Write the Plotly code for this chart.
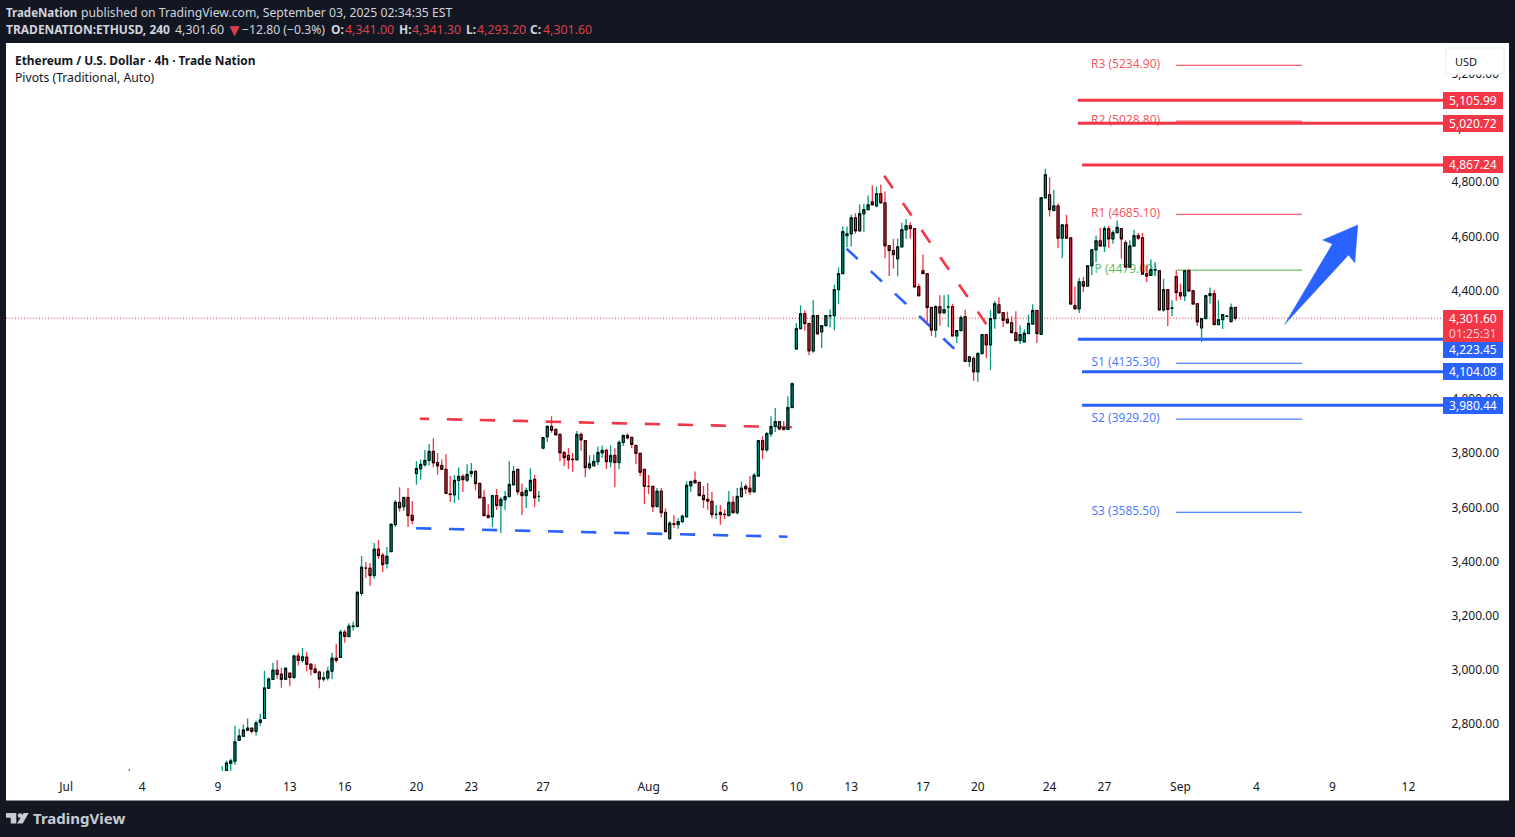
import plotly.graph_objects as go

# ---------- candle data (prices) ----------
read_open = [
 2600,
 2600,2625,2653,2661,2738,2753,2775,2783,2771,2804,
 2819,2930,2963,2997,2982,2963,2986,2970,3049,3033,
 3045,3019,3001,2990,2964,2968,2993,3041,3044,3137,
 3121,3158,3158,3280,3373,3373,3346,3443,3421,3390,
 3434,3534,3616,3600,3634,3568,3722,3740,3755,3771,
 3804,3763,3752,3738,3647,3644,3697,3712,3698,3722,
 3730,3686,3634,3568,3563,3641,3604,3626,3637,3681,
 3738,3653,3641,3659,3701,3638,3816,3858,3896,3885,
 3867,3800,3789,3775,3773,3867,3844,3744,3751,3766,
 3799,3808,3766,3789,3763,3837,3863,3856,3826,3797,
 3738,3675,3675,3600,3657,3579,3482,3537,3534,3545,
 3563,3677,3697,3690,3642,3627,3620,3572,3579,3572,
 3567,3616,3578,3637,3675,3668,3655,3713,3844,3810,
 3869,3896,3914,3892,3885,3966,4182,4257,4312,4276,
 4175,4305,4245,4268,4304,4305,4401,4460,4600,4607,
 4666,4618,4681,4696,4725,4710,4755,4721,4563,4545,
 4515,4559,4622,4637,4626,4412,4471,4460,4335,4252,
 4338,4315,4337,4338,4230,4250,4301,4136,4147,4098,
 4165,4235,4197,4294,4345,4316,4291,4279,4242,4213,
 4208,4239,4274,4324,4236,4740,4751,4693,4710,4591,
 4640,4592,4342,4330,4430,4414,4489,4548,4581,4562,
 4626,4588,4611,4626,4574,4484,4562,4600,4592,4460,
 4454,4473,4471,4326,4401,4332,4449,4390,4378,4471,
 4397,4349,4260,4294,4379,4386,4272,4290,4302,4283,
 4336]
read_high = [
 2632,
 2642,2663,2670,2792,2781,2796,2818,2783,2810,2836,
 2995,2971,3024,3034,3006,3006,2988,3054,3061,3079,
 3065,3020,3019,2995,2991,3009,3061,3094,3146,3146,
 3170,3175,3288,3418,3396,3392,3466,3477,3429,3451,
 3539,3625,3672,3635,3669,3621,3768,3774,3809,3831,
 3853,3798,3774,3794,3713,3717,3746,3720,3757,3761,
 3735,3686,3661,3610,3641,3665,3637,3658,3768,3750,
 3738,3686,3671,3742,3717,3658,3855,3901,3934,3889,
 3870,3805,3817,3798,3879,3874,3844,3790,3792,3822,
 3826,3814,3827,3816,3845,3863,3870,3858,3826,3797,
 3738,3717,3675,3669,3669,3594,3547,3568,3557,3571,
 3693,3693,3730,3690,3676,3687,3654,3606,3606,3590,
 3658,3639,3669,3693,3684,3713,3724,3845,3860,3876,
 3934,3964,3914,3915,4008,4058,4278,4343,4325,4276,
 4362,4305,4268,4305,4328,4420,4483,4635,4634,4678,
 4683,4715,4718,4748,4785,4782,4789,4763,4563,4588,
 4589,4648,4662,4650,4626,4423,4531,4460,4335,4343,
 4380,4380,4384,4349,4250,4306,4327,4153,4155,4171,
 4235,4235,4325,4359,4372,4316,4319,4303,4321,4269,
 4255,4309,4347,4324,4740,4847,4816,4770,4720,4640,
 4677,4592,4413,4445,4448,4489,4548,4601,4628,4636,
 4636,4620,4656,4626,4583,4583,4622,4610,4610,4493,
 4513,4503,4471,4441,4401,4362,4471,4423,4471,4478,
 4397,4349,4294,4382,4409,4401,4362,4309,4305,4350,
 4336]
read_low = [
 2580,
 2590,2615,2626,2648,2738,2753,2775,2763,2756,2792,
 2819,2930,2963,2965,2932,2961,2937,2963,3014,3024,
 2992,2977,2985,2930,2954,2959,2963,3024,3044,3098,
 3121,3143,3158,3271,3337,3308,3334,3407,3359,3372,
 3434,3525,3582,3584,3525,3536,3681,3700,3747,3752,
 3746,3718,3737,3649,3617,3615,3625,3654,3691,3709,
 3661,3633,3567,3560,3525,3588,3503,3588,3637,3681,
 3643,3569,3595,3659,3599,3617,3812,3839,3873,3865,
 3768,3750,3739,3728,3773,3806,3709,3736,3751,3754,
 3781,3739,3746,3673,3739,3824,3848,3816,3757,3713,
 3610,3647,3580,3600,3560,3508,3478,3521,3519,3541,
 3563,3655,3688,3641,3595,3588,3558,3555,3533,3555,
 3567,3574,3571,3637,3647,3643,3655,3713,3776,3803,
 3858,3876,3882,3882,3885,3966,4182,4257,4249,4159,
 4168,4238,4186,4268,4261,4251,4347,4460,4557,4560,
 4607,4618,4615,4696,4714,4705,4721,4517,4451,4478,
 4450,4556,4588,4590,4411,4374,4460,4276,4230,4224,
 4268,4315,4263,4230,4204,4250,4136,4116,4064,4061,
 4165,4148,4104,4257,4315,4263,4276,4242,4213,4200,
 4208,4239,4274,4204,4236,4740,4671,4693,4554,4518,
 4591,4348,4330,4315,4392,4414,4454,4503,4562,4540,
 4556,4570,4611,4515,4484,4484,4562,4583,4458,4429,
 4454,4450,4326,4319,4267,4303,4359,4364,4359,4396,
 4348,4267,4208,4294,4349,4272,4272,4256,4300,4280,
 4288]
read_close = [
 2590,
 2620,2654,2662,2732,2754,2776,2783,2771,2802,2813,
 2931,2964,2997,2981,2963,3004,2970,3049,3033,3046,
 3018,3001,2988,2964,2968,2993,3041,3033,3137,3121,
 3159,3159,3284,3377,3373,3346,3443,3420,3386,3417,
 3535,3616,3596,3634,3567,3550,3741,3756,3771,3804,
 3762,3751,3738,3649,3645,3697,3712,3700,3719,3730,
 3685,3633,3567,3560,3641,3604,3627,3637,3682,3730,
 3655,3641,3660,3697,3633,3638,3855,3896,3882,3865,
 3799,3781,3773,3774,3867,3847,3744,3758,3767,3800,
 3808,3766,3789,3763,3837,3863,3854,3830,3797,3727,
 3675,3675,3600,3657,3578,3508,3539,3535,3545,3565,
 3679,3693,3688,3641,3626,3621,3571,3572,3571,3571,
 3616,3578,3638,3668,3666,3655,3716,3844,3810,3870,
 3896,3914,3887,3885,3966,4054,4257,4312,4276,4175,
 4305,4238,4268,4305,4305,4401,4460,4615,4607,4666,
 4618,4681,4696,4714,4714,4755,4721,4563,4545,4530,
 4559,4622,4637,4626,4411,4379,4460,4335,4252,4338,
 4315,4327,4337,4230,4250,4298,4136,4153,4098,4165,
 4235,4197,4294,4349,4315,4288,4278,4242,4213,4235,
 4240,4276,4324,4239,4740,4825,4696,4710,4591,4640,
 4591,4348,4330,4430,4414,4489,4548,4581,4562,4626,
 4588,4611,4631,4588,4484,4562,4600,4591,4458,4451,
 4475,4475,4326,4401,4328,4333,4390,4378,4471,4396,
 4348,4282,4294,4379,4386,4272,4290,4309,4303,4335,
 4294]

# readings were taken against the tick labels, which sit slightly above their true level
READ_SHIFT = 6.0
# last bar from the header line
LAST_BAR = dict(o=4341.00, h=4341.30, l=4293.20, c=4301.60)

opens = [v + READ_SHIFT for v in read_open]
highs = [v + READ_SHIFT for v in read_high]
lows = [v + READ_SHIFT for v in read_low]
closes = [v + READ_SHIFT for v in read_close]
opens[-1], highs[-1], lows[-1], closes[-1] = LAST_BAR["o"], LAST_BAR["h"], LAST_BAR["l"], LAST_BAR["c"]
highs = [max(a, b, c) for a, b, c in zip(highs, opens, closes)]
lows = [min(a, b, c) for a, b, c in zip(lows, opens, closes)]
bar_index = [-22] + list(range(len(opens) - 1))

# ---------- axis ----------
time_tick_index = [-37, -19, -1, 16, 29, 46, 59, 76, 101, 119, 136, 149, 166, 179, 196, 209, 227, 245, 263, 281]
time_tick_text = ["Jul", "4", "9", "13", "16", "20", "23", "27", "Aug", "6", "10", "13", "17", "20", "24", "27", "Sep", "4", "9", "12"]
price_ticks = [2800, 3000, 3200, 3400, 3600, 3800, 4000, 4200, 4400, 4600, 4800, 5000, 5200]
X_RANGE = [-51.24, 289.2]
Y_RANGE = [2630.7, 5317.1]

# ---------- pivots ----------
pivot_names = ["R3", "R2", "R1", "P", "S1", "S2", "S3"]
pivot_values = [5234.90, 5028.80, 4685.10, 4479.00, 4135.30, 3929.20, 3585.50]
pivot_colors = ["#f23645", "#f23645", "#f23645", "#4caf50", "#2962ff", "#2962ff", "#2962ff"]
pivot_text_colors = ["rgba(242,54,69,.85)"] * 3 + ["rgba(76,175,80,.9)"] + ["rgba(41,98,255,.85)"] * 3
PIVOT_SPAN = [225.9, 255.8]
PIVOT_LABEL_SPAN = [206.0, 222.0]

# ---------- horizontal levels ----------
level_values = [5105.99, 5020.72, 4867.24, 4223.45, 4104.08, 3980.44]
level_starts = [202.7, 202.7, 203.7, 202.7, 203.7, 203.7]
level_colors = ["#f23645", "#f23645", "#f23645", "#2962ff", "#2962ff", "#2962ff"]
level_label_shift = [0, 0, 0, -10, 0, 0]

# ---------- drawings (bar index, price) ----------
DASH = "15.3px,17.7px"
red = "#f23645"
blue = "#2962ff"
trend_lines = [
    (46.8, 3930.8, 49.0, 3930.0, red, "solid"),
    (53.2, 3928.6, 134.9, 3899.0, red, DASH),
    (45.9, 3526.3, 133.9, 3495.3, blue, DASH),
    (156.8, 4827.4, 181.1, 4277.6, red, DASH),
    (147.9, 4558.1, 173.4, 4189.1, blue, DASH),
]
arrow_index = [251.7, 263.0, 260.7, 269.0, 268.3, 266.8, 251.7]
arrow_price = [4279.1, 4575.4, 4590.1, 4645.5, 4506.4, 4534.8, 4279.1]

DARK = "#131722"
LIGHT = "#d1d4dc"
FONT = "Noto Sans"
L, R, T, B = 6, 1443, 43, 771


def px(x):
    return (x - L) / (R - L)


def py(y):
    return (B - y) / (B - T)


shapes = []
# white panel
shapes.append(dict(type="rect", xref="paper", yref="paper", x0=px(6), x1=px(1509), y0=py(800.5), y1=py(43),
                   fillcolor="white", line_width=0, layer="below"))
# pivot labels and lines
for n, v, c, tc in zip(pivot_names, pivot_values, pivot_colors, pivot_text_colors):
    shapes.append(dict(type="rect", xref="x", yref="y", x0=PIVOT_LABEL_SPAN[0], x1=PIVOT_LABEL_SPAN[1],
                       y0=v - 27, y1=v + 33, line_width=0, fillcolor="rgba(0,0,0,0)", layer="below",
                       label=dict(text=f"{n} ({v:.2f})", textposition="middle center",
                                  font=dict(family=FONT, size=12, color=tc))))
    shapes.append(dict(type="line", xref="x", yref="y", x0=PIVOT_SPAN[0], x1=PIVOT_SPAN[1], y0=v, y1=v,
                       line=dict(color=c, width=1), layer="below"))
# current price
shapes.append(dict(type="line", xref="paper", yref="y", x0=0, x1=1, y0=closes[-1], y1=closes[-1],
                   line=dict(color=red, width=1, dash="1px,2px"), layer="below"))
# levels
for v, s, c in zip(level_values, level_starts, level_colors):
    shapes.append(dict(type="line", xref="x", yref="y", x0=s, x1=X_RANGE[1], y0=v, y1=v,
                       line=dict(color=c, width=3), layer="below"))
# trend lines
for x0, y0, x1, y1, c, d in trend_lines:
    shapes.append(dict(type="line", xref="x", yref="y", x0=x0, x1=x1, y0=y0, y1=y1,
                       line=dict(color=c, width=2.6, dash=d), layer="below"))
# USD button
shapes.append(dict(type="rect", xref="paper", yref="paper", x0=px(1446), x1=px(1504), y0=py(74), y1=py(48),
                   fillcolor="white", line=dict(color="#f0f3fa", width=1.5), layer="above"))
# logo
logo_color = "#c9cbd2"
shapes.append(dict(type="path", xref="paper", yref="paper", layer="above", fillcolor=logo_color, line_width=0,
                   path=f"M{px(6)},{py(813)} L{px(16.3)},{py(813)} L{px(16.3)},{py(823.6)} L{px(10.7)},{py(823.6)} "
                        f"L{px(10.7)},{py(817.7)} L{px(6)},{py(817.7)} Z"))
shapes.append(dict(type="circle", xref="paper", yref="paper", layer="above", fillcolor=logo_color, line_width=0,
                   x0=px(17.7), x1=px(22.3), y0=py(817.8), y1=py(813.2)))
shapes.append(dict(type="path", xref="paper", yref="paper", layer="above", fillcolor=logo_color, line_width=0,
                   path=f"M{px(23.5)},{py(813)} L{px(28.7)},{py(813)} L{px(22.7)},{py(823.6)} L{px(17)},{py(823.6)} Z"))


def txt(x, y, text, size=12, color=DARK, anchor="left"):
    return dict(xref="paper", yref="paper", x=px(x), y=py(y), text=text, showarrow=False, xanchor=anchor,
                yanchor="middle", align=anchor, borderpad=0, borderwidth=0,
                font=dict(family=FONT, size=size, color=color))


rv = "#d9424a"
annotations = [
    txt(6, 12.5, "<b>TradeNation</b>", 11.5, LIGHT),
    txt(81, 12.5, "published on TradingView.com, September 03, 2025 02:34:35 EST", 12.2, LIGHT),
    txt(6, 29.5, "<b>TRADENATION:ETHUSD, 240</b>", 12, LIGHT),
    txt(175, 29.5, "4,301.60", 12.4, LIGHT),
    txt(226, 29.5, "▼", 17, rv),
    txt(242, 29.5, "−12.80 (−0.3%)", 12.2, LIGHT),
    txt(331, 29.5, "<b>O:</b>", 12, LIGHT),
    txt(345, 29.5, "4,341.00", 12.4, rv),
    txt(399, 29.5, "<b>H:</b>", 12, LIGHT),
    txt(412, 29.5, "4,341.30", 12.4, rv),
    txt(466, 29.5, "<b>L:</b>", 12, LIGHT),
    txt(477, 29.5, "4,293.20", 12.4, rv),
    txt(530, 29.5, "<b>C:</b>", 12, LIGHT),
    txt(543, 29.5, "4,301.60", 12.4, rv),
    txt(15, 60, "<b>Ethereum / U.S. Dollar · 4h · Trade Nation</b>", 11.9, DARK),
    txt(15, 77.5, "Pivots (Traditional, Auto)", 12.2, DARK),
    txt(1455, 61.5, "USD", 11, DARK),
    txt(33, 818, "<b>TradingView</b>", 15, logo_color),
]
# price labels on the right
for v, c, s in zip(level_values, level_colors, level_label_shift):
    annotations.append(dict(xref="paper", yref="y", x=1.0, y=v, xanchor="left", yanchor="middle", showarrow=False,
                            yshift=s, width=60, height=17, bgcolor=c, borderpad=0, borderwidth=0, align="center",
                            text=f"{v:,.2f}", font=dict(family=FONT, size=12, color="white")))
annotations.append(dict(xref="paper", yref="y", x=1.0, y=closes[-1], xanchor="left", yanchor="middle", showarrow=False,
                        yshift=-8, width=60, height=32, bgcolor=red, borderpad=0, borderwidth=0, align="center",
                        text=f"{closes[-1]:,.2f}<br><span style='color:#fbc4c9'>01:25:31</span>",
                        font=dict(family=FONT, size=12, color="white")))

fig = go.Figure()
# wicks
fig.add_trace(go.Candlestick(x=bar_index, open=opens, high=highs, low=lows, close=closes,
                             increasing=dict(line=dict(color="#089981", width=1.3), fillcolor="#089981"),
                             decreasing=dict(line=dict(color="#f23645", width=1.3), fillcolor="#f23645"),
                             whiskerwidth=0, hoverinfo="skip"))
# bodies with dark outline
body_high = [max(a, b) for a, b in zip(opens, closes)]
body_low = [min(a, b) for a, b in zip(opens, closes)]
fig.add_trace(go.Candlestick(x=bar_index, open=opens, high=body_high, low=body_low, close=closes,
                             increasing=dict(line=dict(color="#000000", width=1), fillcolor="#089981"),
                             decreasing=dict(line=dict(color="#000000", width=1), fillcolor="#f23645"),
                             whiskerwidth=0, hoverinfo="skip"))
# arrow
fig.add_trace(go.Scatter(x=arrow_index, y=arrow_price, mode="lines", fill="toself", fillcolor=blue,
                         line=dict(color=blue, width=0.5), hoverinfo="skip"))

fig.update_layout(
    width=1515, height=837, autosize=False,
    margin=dict(l=L, r=1515 - R, t=T, b=837 - B, pad=0),
    paper_bgcolor=DARK, plot_bgcolor="white", showlegend=False, dragmode=False,
    boxgap=0.53, boxgroupgap=0,
    font=dict(family=FONT, size=12, color=DARK),
    shapes=shapes, annotations=annotations,
    xaxis=dict(range=X_RANGE, tickmode="array", tickvals=time_tick_index, ticktext=time_tick_text,
               rangeslider=dict(visible=False), showgrid=False, zeroline=False, showline=False,
               ticks="outside", ticklen=5, tickcolor="rgba(255,255,255,0)", automargin=False,
               tickfont=dict(family=FONT, size=12, color=DARK)),
    yaxis=dict(range=Y_RANGE, side="right", tickmode="array", tickvals=price_ticks, tickformat=",.2f",
               showgrid=False, zeroline=False, showline=False, ticks="outside", ticklen=5, ticklabelshift=-1,
               tickcolor="rgba(255,255,255,0)", automargin=False,
               tickfont=dict(family=FONT, size=12, color=DARK)),
)

fig.write_html("out.html", config=dict(displayModeBar=False, staticPlot=True),
               post_script="document.body.style.margin='0';document.body.style.background='#131722';document.documentElement.style.overflow='hidden';")
